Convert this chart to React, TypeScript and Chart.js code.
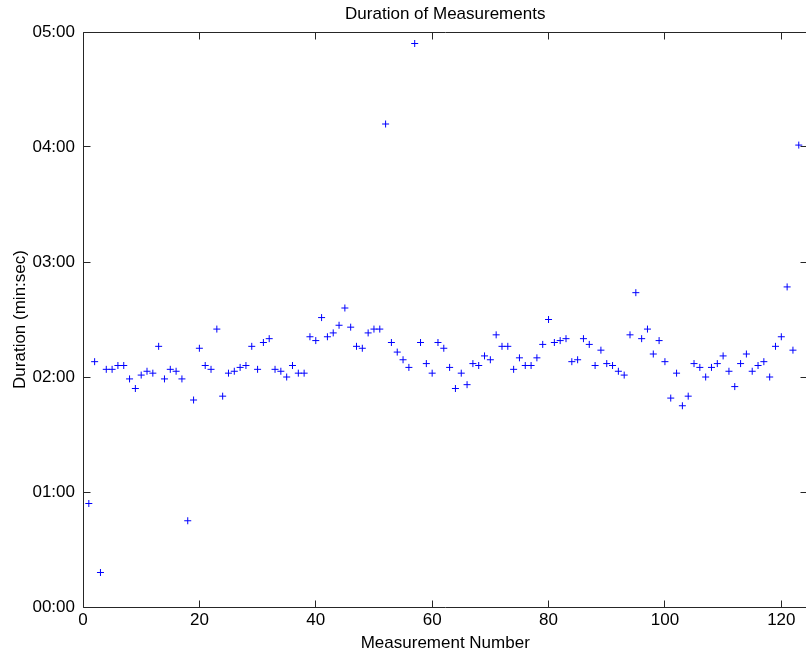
import React, { useEffect, useRef } from 'react';
import { Chart, registerables } from 'chart.js';

Chart.register(...registerables);

// Duration of each measurement, in seconds (measurement numbers 1..123)
const durationsSec = [
  54, 128, 18, 124, 124, 126, 126, 119, 114, 121,
  123, 122, 136, 119, 124, 123, 119, 45, 108, 135,
  126, 124, 145, 110, 122, 123, 125, 126, 136, 124,
  138, 140, 124, 123, 120, 126, 122, 122, 141, 139,
  151, 141, 143, 147, 156, 146, 136, 135, 143, 145,
  145, 252, 138, 133, 129, 125, 294, 138, 127, 122,
  138, 135, 125, 114, 122, 116, 127, 126, 131, 129,
  142, 136, 136, 124, 130, 126, 126, 130, 137, 150,
  138, 139, 140, 128, 129, 140, 137, 126, 134, 127,
  126, 123, 121, 142, 164, 140, 145, 132, 139, 128,
  109, 122, 105, 110, 127, 125, 120, 125, 127, 131,
  123, 115, 127, 132, 123, 126, 128, 120, 136, 141,
  167, 134, 241,
];

const xTicks = [0, 20, 40, 60, 80, 100, 120];
const yTicks = [0, 60, 120, 180, 240, 300];
const yTickLabels = ['00:00', '01:00', '02:00', '03:00', '04:00', '05:00'];

const FONT = 'Liberation Sans, Arial, Helvetica, sans-serif';
const AXIS_COLOR = '#262626';

const framePlugin = {
  id: 'matlabFrame',
  afterDatasetsDraw(chart: any) {
    const { ctx, chartArea: a, scales } = chart;
    const L = Math.floor(a.left) + 0.5;
    const R = Math.floor(a.right) + 0.5;
    const T = Math.floor(a.top) + 0.5;
    const B = Math.floor(a.bottom) + 0.5;
    const tl = 7;
    ctx.save();
    ctx.strokeStyle = AXIS_COLOR;
    ctx.lineWidth = 1;
    ctx.beginPath();
    ctx.rect(L, T, R - L, B - T);
    ctx.stroke();
    ctx.beginPath();
    xTicks.forEach((v) => {
      const px = Math.floor(scales.x.getPixelForValue(v)) + 0.5;
      ctx.moveTo(px, B);
      ctx.lineTo(px, B - tl);
      ctx.moveTo(px, T);
      ctx.lineTo(px, T + tl);
    });
    yTicks.forEach((v) => {
      const py = Math.floor(scales.y.getPixelForValue(v)) + 0.5;
      ctx.moveTo(L, py);
      ctx.lineTo(L + tl, py);
      ctx.moveTo(R, py);
      ctx.lineTo(R - tl, py);
    });
    ctx.stroke();
    ctx.restore();
  },
};

export default function App() {
  const canvasRef = useRef<HTMLCanvasElement | null>(null);

  useEffect(() => {
    if (!canvasRef.current) return;
    const points = durationsSec.map((d, i) => ({ x: i + 1, y: d }));
    const chart = new Chart(canvasRef.current, {
      type: 'scatter',
      data: {
        datasets: [
          {
            data: points,
            pointStyle: 'cross',
            pointRadius: 3.5,
            pointHoverRadius: 3.5,
            borderColor: '#0000ff',
            backgroundColor: '#0000ff',
            borderWidth: 1,
            pointBorderWidth: 1,
          },
        ],
      },
      options: {
        animation: false,
        responsive: true,
        maintainAspectRatio: false,
        events: [],
        layout: { padding: { left: 0, right: 2, top: 0, bottom: 0 } },
        plugins: {
          legend: { display: false },
          tooltip: { enabled: false },
          title: {
            display: true,
            fullSize: false,
            text: 'Duration of Measurements',
            color: '#000',
            font: { family: FONT, size: 17, weight: 'normal' },
            padding: { top: 4, bottom: 7.6 },
          },
        },
        scales: {
          x: {
            type: 'linear',
            min: 0,
            max: 124.5,
            afterBuildTicks: (s: any) => {
              s.ticks = xTicks.map((v) => ({ value: v }));
            },
            afterFit: (s: any) => {
              s.height = 48;
              s.paddingLeft = 0;
              s.paddingRight = 0;
            },
            grid: { display: false, drawTicks: false },
            border: { display: false },
            ticks: {
              color: '#000',
              font: { family: FONT, size: 17 },
              padding: 3,
              maxRotation: 0,
              autoSkip: false,
            },
            title: {
              display: true,
              text: 'Measurement Number',
              color: '#000',
              font: { family: FONT, size: 17 },
              padding: { top: 0, bottom: 1 },
            },
          },
          y: {
            type: 'linear',
            min: 0,
            max: 300,
            afterBuildTicks: (s: any) => {
              s.ticks = yTicks.map((v) => ({ value: v }));
            },
            afterFit: (s: any) => {
              s.width = 83;
              s.paddingTop = 0;
              s.paddingBottom = 0;
            },
            grid: { display: false, drawTicks: false },
            border: { display: false },
            ticks: {
              color: '#000',
              font: { family: FONT, size: 17 },
              padding: 8,
              autoSkip: false,
              callback: (v: any) => {
                const i = yTicks.indexOf(Number(v));
                return i >= 0 ? yTickLabels[i] : '';
              },
            },
            title: {
              display: true,
              text: 'Duration (min:sec)',
              color: '#000',
              font: { family: FONT, size: 17 },
              padding: { top: 10, bottom: 0 },
            },
          },
        },
      },
      plugins: [framePlugin],
    });
    return () => chart.destroy();
  }, []);

  return (
    <div
      style={{
        position: 'fixed',
        left: 0,
        top: 0,
        width: 806,
        height: 655,
        overflow: 'hidden',
        background: '#fff',
      }}
    >
      <div style={{ position: 'relative', width: 812, height: 655 }}>
        <canvas ref={canvasRef} />
      </div>
    </div>
  );
}
